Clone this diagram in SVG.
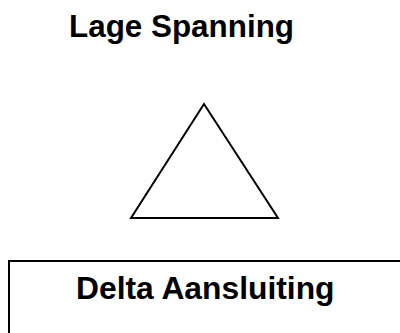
<svg xmlns="http://www.w3.org/2000/svg" width="400" height="333" viewBox="0 0 400 333">
<style>
.t{font-family:"Liberation Sans",Arial,sans-serif;font-weight:bold;font-size:31.4px;fill:#000}
.s{fill:none;stroke:#000;stroke-width:2}
</style>
<rect width="400" height="333" fill="#fff"/>
<g id="title"><text class="t" x="69" y="37">Lage Spanning</text></g>
<g id="delta"><polygon class="s" points="204,104 131,218 278,218" stroke-linejoin="miter"/></g>
<g id="box"><rect class="s" x="9" y="261" width="400" height="90"/><text class="t" x="76" y="299" style="font-size:31.8px">Delta Aansluiting</text></g>
<g id="connectors"></g>
</svg>
